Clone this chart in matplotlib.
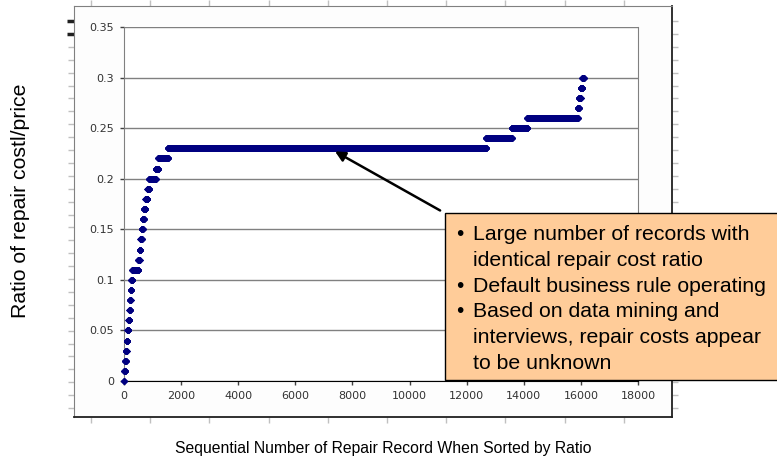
import numpy as np
import matplotlib
matplotlib.use('Agg')
import matplotlib.pyplot as plt
from matplotlib.patches import Rectangle

# ratio levels and index of the last record sitting at each level (sorted records)
ratio_levels = [0.00, 0.01, 0.02, 0.03, 0.04, 0.05, 0.06, 0.07, 0.08, 0.09, 0.10,
                0.11, 0.12, 0.13, 0.14, 0.15, 0.16, 0.17, 0.18, 0.19, 0.20,
                0.21, 0.22, 0.23, 0.24, 0.25, 0.26, 0.27, 0.28, 0.29, 0.30]
last_record = [10, 40, 65, 90, 120, 155, 190, 210, 230, 255, 290,
               500, 545, 575, 620, 655, 695, 750, 820, 880, 1110,
               1200, 1540, 12680, 13580, 14120, 15890, 15930, 15990, 16050, 16100]

yticks = [0, 0.05, 0.1, 0.15, 0.2, 0.25, 0.3, 0.35]
ytick_labels = ['0', '0.05', '0.1', '0.15', '0.2', '0.25', '0.3', '0.35']
xticks = [0, 2000, 4000, 6000, 8000, 10000, 12000, 14000, 16000, 18000]

note_lines = ['Large number of records with', 'identical repair cost ratio',
              'Default business rule operating', 'Based on data mining and',
              'interviews, repair costs appear', 'to be unknown']
note_bullets = [True, False, True, True, False, False]

counts = np.diff([0] + last_record)
rec = np.arange(1, last_record[-1] + 1)
ratio = np.repeat(ratio_levels, counts)

W, H = 777, 459
fig = plt.figure(figsize=(W / 100, H / 100), dpi=100)
fig.patch.set_facecolor('white')

def fx(px):
    return px / W

def fy(py):
    return 1 - py / H

#------------------------------------------------------------------
# background chart frame with its own tick marks
bg = fig.add_axes([fx(74), fy(417), fx(672) - fx(74), fy(6) - fy(417)])
bg.set_xlim(74, 672)
bg.set_ylim(417, 6)
bg.set_facecolor('#fdfdfd')
bg.set_xticks(91 + 59.2 * np.arange(10))
bg.set_yticks(21 + 12.9 * np.arange(31))
bg.tick_params(axis='both', direction='out', length=4, width=1, color='#c0c0c0',
               labelbottom=False, labelleft=False, top=True, right=True)
for s in ['left', 'top']:
    bg.spines[s].set_color('#808080')
for s in ['right', 'bottom']:
    bg.spines[s].set_color('#202020')
    bg.spines[s].set_linewidth(1.3)
for t in bg.yaxis.get_major_ticks()[:2]:
    t.tick1line.set_markeredgecolor('#202020')
    t.tick1line.set_markeredgewidth(2.5)
    t.tick1line.set_markersize(5)

#------------------------------------------------------------------
# main plot
ax = fig.add_axes([fx(124), fy(381), fx(638) - fx(124), fy(27) - fy(381)])
ax.set_facecolor('white')
ax.plot(rec, ratio, linestyle='none', marker='D', markersize=3.5,
        color='#000080', markeredgewidth=0, clip_on=False, zorder=3)
ax.set_xlim(0, 18000)
ax.set_ylim(0, 0.35)
ax.set_xticks(xticks)
ax.set_xticklabels([str(v) for v in xticks])
ax.set_yticks(yticks)
ax.set_yticklabels(ytick_labels)
ax.grid(axis='y', color='#808080', linewidth=1)
ax.set_axisbelow(True)
ax.tick_params(axis='both', direction='out', length=3, width=1, color='#404040',
               labelsize=8, labelcolor='#333333', pad=4)
ax.spines['left'].set_color('#808080')
ax.spines['right'].set_color('#808080')
ax.spines['top'].set_visible(False)
ax.spines['bottom'].set_color('black')

fig.text(fx(21), fy(201), 'Ratio of repair costl/price', rotation=90,
         ha='center', va='center', fontsize=15.3, family='Liberation Sans')
fig.text(fx(383), fy(449), 'Sequential Number of Repair Record When Sorted by Ratio',
         ha='center', va='center', fontsize=11.3, family='Liberation Sans')

# arrow to the flat run
ax.annotate('', xy=(7390, 0.227), xytext=(11070, 0.1686),
            arrowprops=dict(arrowstyle='-|>', color='black', lw=1.8,
                            mutation_scale=15, shrinkA=0, shrinkB=0),
            annotation_clip=False)

# note box
box = Rectangle((fx(445), fy(380)), 1.02 - fx(445), fy(213) - fy(380),
                transform=fig.transFigure, facecolor='#ffcc99',
                edgecolor='black', linewidth=1, zorder=5)
fig.add_artist(box)
for i, (line, b) in enumerate(zip(note_lines, note_bullets)):
    yb = 240 + 25.75 * i
    if b:
        fig.text(fx(456), fy(yb), '\u2022', fontsize=15, family='Liberation Sans',
                 va='baseline', ha='left', zorder=6)
    fig.text(fx(473), fy(yb), line, fontsize=15.3, family='Liberation Sans',
             va='baseline', ha='left', zorder=6)

fig.savefig('out.png', dpi=100)
